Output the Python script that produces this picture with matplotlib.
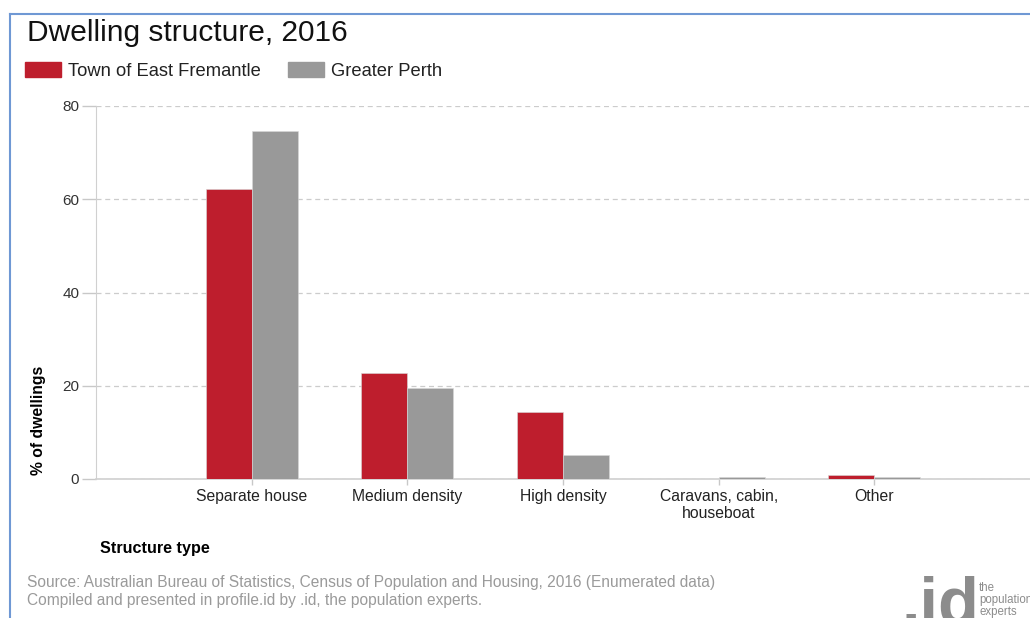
import numpy as np
import matplotlib.pyplot as plt
from matplotlib.patches import Rectangle
from matplotlib.lines import Line2D

plt.rcParams['font.family'] = ['Liberation Sans', 'DejaVu Sans']

categories = ['Separate house', 'Medium density', 'High density',
              'Caravans, cabin,\nhouseboat', 'Other']
east_fremantle = [62.2, 22.7, 14.4, 0.0, 0.8]
greater_perth = [74.6, 19.5, 5.2, 0.4, 0.4]
yticks = [0, 20, 40, 60, 80]

red = '#be1e2d'
grey = '#999999'

fig = plt.figure(figsize=(10.30, 6.18), dpi=100)

# outer frame (blue left and top edge)
fig.add_artist(Line2D([10 / 1030, 10 / 1030], [0, 1 - 14 / 618],
                      transform=fig.transFigure, color='#6f98d4', lw=1.5))
fig.add_artist(Line2D([10 / 1030, 1], [1 - 14 / 618, 1 - 14 / 618],
                      transform=fig.transFigure, color='#6f98d4', lw=1.5))

ax = fig.add_axes([96 / 1030, 1 - 479 / 618, 1 - 96 / 1030, (479 - 106) / 618])

x = np.arange(len(categories))
w = 0.296
ax.bar(x - w / 2, east_fremantle, w, color=red, edgecolor='#d8d8d8', lw=0.4, zorder=3)
ax.bar(x + w / 2, greater_perth, w, color=grey, edgecolor='#d8d8d8', lw=0.4, zorder=3)

ax.set_xlim(-1, 5)
ax.set_ylim(0, 80)
ax.set_yticks(yticks)
ax.set_xticks(x)
ax.set_xticklabels(categories, fontsize=11.3, color='#222222', linespacing=1.2)
ax.tick_params(axis='y', labelsize=11, labelcolor='#333333', color='#c8c8c8',
               length=10, width=1, pad=2)
ax.tick_params(axis='x', color='#c8c8c8', length=4, width=1, pad=3)

for s in ['top', 'right']:
    ax.spines[s].set_visible(False)
ax.spines['left'].set_color('#d0d0d0')
ax.spines['bottom'].set_color('#d0d0d0')
ax.spines['bottom'].set_linewidth(1.2)
ax.yaxis.grid(True, color='#cccccc', linestyle=(0, (4, 3)), lw=0.9, zorder=0)
ax.set_axisbelow(True)

ax.set_ylabel('% of dwellings', fontsize=11.3, fontweight='bold')
ax.yaxis.set_label_coords(-0.054, 0.158)

fig.text(27 / 1030, 1 - 33 / 618, 'Dwelling structure, 2016', fontsize=21.5,
         va='center', ha='left', color='#111111')

# legend
fig.add_artist(Rectangle((25 / 1030, 1 - 77 / 618), 36 / 1030, 15 / 618,
                         transform=fig.transFigure, color=red))
fig.text(68 / 1030, 1 - 71 / 618, 'Town of East Fremantle', fontsize=13.2,
         va='center', ha='left', color='#222222')
fig.add_artist(Rectangle((288 / 1030, 1 - 77 / 618), 36 / 1030, 15 / 618,
                         transform=fig.transFigure, color=grey))
fig.text(331 / 1030, 1 - 71 / 618, 'Greater Perth', fontsize=13.2,
         va='center', ha='left', color='#222222')

fig.text(100 / 1030, 1 - 548 / 618, 'Structure type', fontsize=11.6,
         fontweight='bold', va='center', ha='left')

fig.text(27 / 1030, 1 - 583 / 618,
         'Source: Australian Bureau of Statistics, Census of Population and Housing, 2016 (Enumerated data)',
         fontsize=11.2, color='#9a9a9a', va='center', ha='left')
fig.text(27 / 1030, 1 - 601 / 618,
         'Compiled and presented in profile.id by .id, the population experts.',
         fontsize=11.2, color='#9a9a9a', va='center', ha='left')

# logo
fig.text(901 / 1030, 1 - 624 / 618, '.id', fontsize=48, fontweight='bold',
         color='#8c8c8c', va='baseline', ha='left')
fig.text(979 / 1030, 1 - 600 / 618, 'the\npopulation\nexperts', fontsize=8.3,
         color='#8c8c8c', va='center', ha='left', linespacing=1.05)

fig.savefig('out.png', dpi=100)
